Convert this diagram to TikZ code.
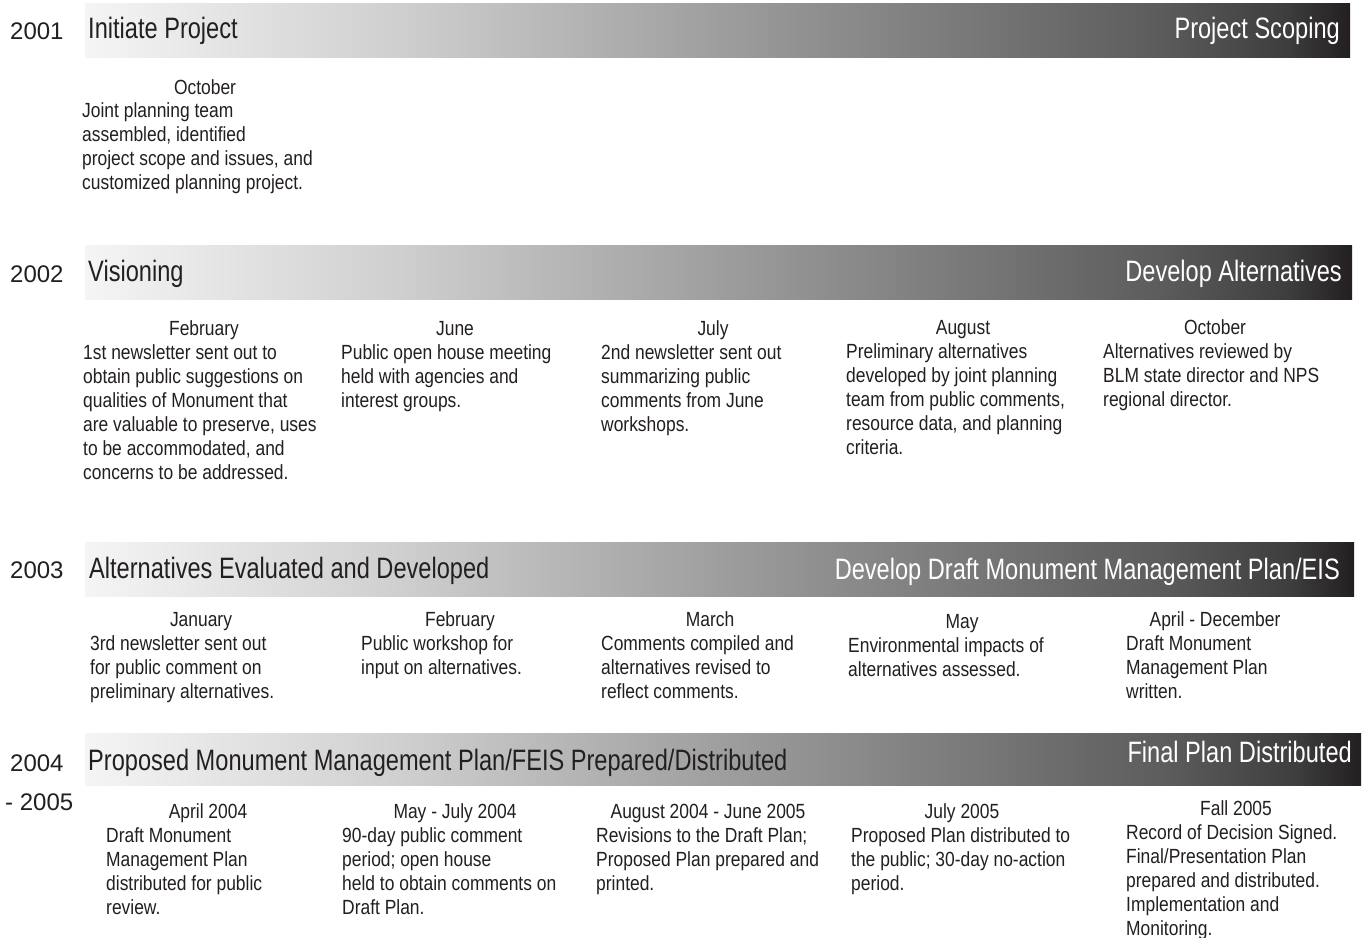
\documentclass[tikz,border=0pt]{standalone}
\usepackage{fontspec}
\setmainfont{Liberation Sans}
\newfontfamily\bodyf[FakeStretch=0.85]{Liberation Sans}
\newfontfamily\titlef[FakeStretch=0.80]{Liberation Sans}
\newfontfamily\yearf{Liberation Sans}
\definecolor{ink}{HTML}{231F20}
\pgfdeclarehorizontalshading{barshade}{100bp}{%
  color(0bp)=(white!96!black);
  color(25bp)=(white!96!black);
  color(37.5bp)=(black!19);
  color(50bp)=(black!38);
  color(60bp)=(black!53);
  color(67.5bp)=(black!64);
  color(72.5bp)=(black!76);
  color(75bp)=(ink);
  color(100bp)=(ink)}
\newcommand\blk[1]{\parbox[t]{300pt}{\raggedright #1}}
\begin{document}
\begin{tikzpicture}[x=1pt,y=-1pt,
  bar/.style={shading=barshade},
  yr/.style={anchor=base west,inner sep=0pt,text=ink,font=\yearf\fontsize{24}{28}\selectfont},
  ttl/.style={anchor=base west,inner sep=0pt,text=ink,font=\titlef\fontsize{29.5}{34}\selectfont},
  ttr/.style={anchor=base east,inner sep=0pt,text=white,font=\titlef\fontsize{29.5}{34}\selectfont},
  month/.style={anchor=base,inner sep=0pt,text=ink,font=\bodyf\fontsize{20.5}{24}\selectfont},
  desc/.style={anchor=base west,inner sep=0pt,text=ink,font=\bodyf\fontsize{20.5}{24}\selectfont}]
\useasboundingbox[fill=white] (0,0) rectangle (1367,937);

% bars
\shade[bar] (85,3) rectangle (1350,57);
\shade[bar] (85,245) rectangle (1352,299);
\shade[bar] (85,542) rectangle (1354,596);
\shade[bar] (85,733) rectangle (1361,785);

% years
\node[yr] (y1) at (10,39) {2001};
\node[yr] (y2) at (10,282) {2002};
\node[yr] (y3) at (10,578) {2003};
\node[yr] (y4) at (10,771) {2004};
\node[yr] (y5) at (5,810) {- 2005};

% bar titles
\node[ttl] (t1) at (88,38.5) {Initiate Project};
\node[ttl] (t2) at (88,281.7) {Visioning};
\node[ttl] (t3) at (89,578.5) {Alternatives Evaluated and Developed};
\node[ttl] (t4) at (88,770.5) {Proposed Monument Management Plan/FEIS Prepared/Distributed};
\node[ttr] (r1) at (1340,38) {Project Scoping};
\node[ttr] (r2) at (1342,281.7) {Develop Alternatives};
\node[ttr] (r3) at (1340,579) {Develop Draft Monument Management Plan/EIS};
\node[ttr] (r4) at (1352,762) {Final Plan Distributed};

% 2001
\node[month] (m11) at (205,94) {October};
\node[desc] (d11) at (82,117) {\blk{Joint planning team\\assembled, identified\\project scope and issues, and\\customized planning project.}};

% 2002
\node[month] (m21) at (204,335) {February};
\node[desc] (d21) at (83,359) {\blk{1st newsletter sent out to\\obtain public suggestions on\\qualities of Monument that\\are valuable to preserve, uses\\to be accommodated, and\\concerns to be addressed.}};
\node[month] (m22) at (455,335) {June};
\node[desc] (d22) at (341,359) {\blk{Public open house meeting\\held with agencies and\\interest groups.}};
\node[month] (m23) at (713,335) {July};
\node[desc] (d23) at (601,359) {\blk{2nd newsletter sent out\\summarizing public\\comments from June\\workshops.}};
\node[month] (m24) at (963,334) {August};
\node[desc] (d24) at (846,358) {\blk{Preliminary alternatives\\developed by joint planning\\team from public comments,\\resource data, and planning\\criteria.}};
\node[month] (m25) at (1215,334) {October};
\node[desc] (d25) at (1103,358) {\blk{Alternatives reviewed by\\BLM state director and NPS\\regional director.}};

% 2003
\node[month] (m31) at (201,626) {January};
\node[desc] (d31) at (90,650) {\blk{3rd newsletter sent out\\for public comment on\\preliminary alternatives.}};
\node[month] (m32) at (460,626) {February};
\node[desc] (d32) at (361,650) {\blk{Public workshop for\\input on alternatives.}};
\node[month] (m33) at (710,626) {March};
\node[desc] (d33) at (601,650) {\blk{Comments compiled and\\alternatives revised to\\reflect comments.}};
\node[month] (m34) at (962,628) {May};
\node[desc] (d34) at (848,652) {\blk{Environmental impacts of\\alternatives assessed.}};
\node[month] (m35) at (1215,626) {April - December};
\node[desc] (d35) at (1126,650) {\blk{Draft Monument\\Management Plan\\written.}};

% 2004 - 2005
\node[month] (m41) at (208,818) {April 2004};
\node[desc] (d41) at (106,842) {\blk{Draft Monument\\Management Plan\\distributed for public\\review.}};
\node[month] (m42) at (455,818) {May - July 2004};
\node[desc] (d42) at (342,842) {\blk{90-day public comment\\period; open house\\held to obtain comments on\\Draft Plan.}};
\node[month] (m43) at (708,818) {August 2004 - June 2005};
\node[desc] (d43) at (596,842) {\blk{Revisions to the Draft Plan;\\Proposed Plan prepared and\\printed.}};
\node[month] (m44) at (962,818) {July 2005};
\node[desc] (d44) at (851,842) {\blk{Proposed Plan distributed to\\the public; 30-day no-action\\period.}};
\node[month] (m45) at (1236,815) {Fall 2005};
\node[desc] (d45) at (1126,839) {\blk{Record of Decision Signed.\\Final/Presentation Plan\\prepared and distributed.\\Implementation and\\Monitoring.}};
\end{tikzpicture}
\end{document}
